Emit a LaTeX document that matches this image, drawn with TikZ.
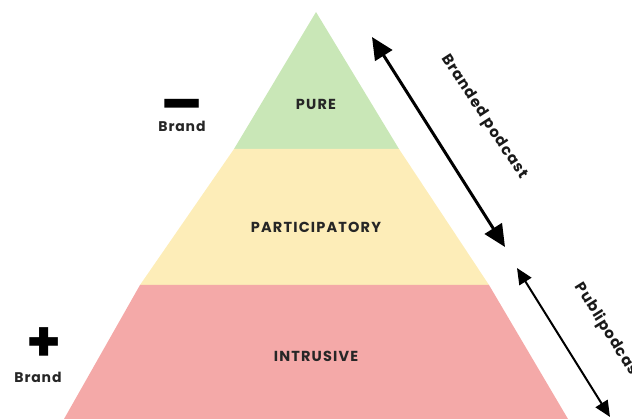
\documentclass[tikz,border=0pt]{standalone}
\usepackage{fontspec}
\setmainfont{Poppins}
\usetikzlibrary{arrows.meta}
\definecolor{purecol}{HTML}{C9E7B7}
\definecolor{partcol}{HTML}{FDEDB8}
\definecolor{intrcol}{HTML}{F4A9A8}
\tikzset{
  levellabel/.style={font=\fontsize{14.5}{16}\selectfont\bfseries\addfontfeature{LetterSpace=8}, text=black!85},
  brandlabel/.style={font=\fontsize{14}{16}\selectfont\bfseries\addfontfeature{LetterSpace=6}, text=black!85},
  sidelabel/.style={font=\fontsize{15}{16}\selectfont\bfseries\addfontfeature{LetterSpace=6}, text=black!90},
  signlabel/.style={font=\fontsize{#1}{#1}\selectfont\bfseries, inner sep=0pt},
}
\begin{document}
\begin{tikzpicture}[x=1pt,y=-1pt]
\useasboundingbox (0,0) rectangle (632,419);
% pyramid bands
\fill[purecol] (316,12) -- (399,149) -- (234,149) -- cycle;
\fill[partcol] (234,149) -- (399,149) -- (489,285) -- (140,285) -- cycle;
\fill[intrcol] (140,285) -- (489,285) -- (568,419) -- (64,419) -- cycle;
\node[levellabel] (pure) at (316,104) {PURE};
\node[levellabel] (part) at (316,227) {PARTICIPATORY};
\node[levellabel] (intr) at (316,356) {INTRUSIVE};
% brand scale
\node[signlabel=62] (minus) at (182,112) {–};
\node[brandlabel] (brtop) at (182,126) {Brand};
\node[signlabel=56] (plus) at (44,345) {+};
\node[brandlabel] (brbot) at (38,377) {Brand};
% side arrows
\coordinate (bp1) at (372,37);
\coordinate (bp2) at (505,247);
\coordinate (pp1) at (517,268);
\coordinate (pp2) at (610,417);
\draw[line width=3pt, {Triangle[length=22pt,width=20pt]}-{Triangle[length=22pt,width=20pt]}] (bp1) -- (bp2);
\draw[line width=2pt, {Triangle[length=16pt,width=14pt]}-{Triangle[length=16pt,width=14pt]}] (pp1) -- (pp2);
\node[sidelabel, rotate=-57] (branded) at (484,117) {Branded podcast};
\node[sidelabel, rotate=-58] (publi) at (608,332) {Publipodcast};
\end{tikzpicture}
\end{document}
